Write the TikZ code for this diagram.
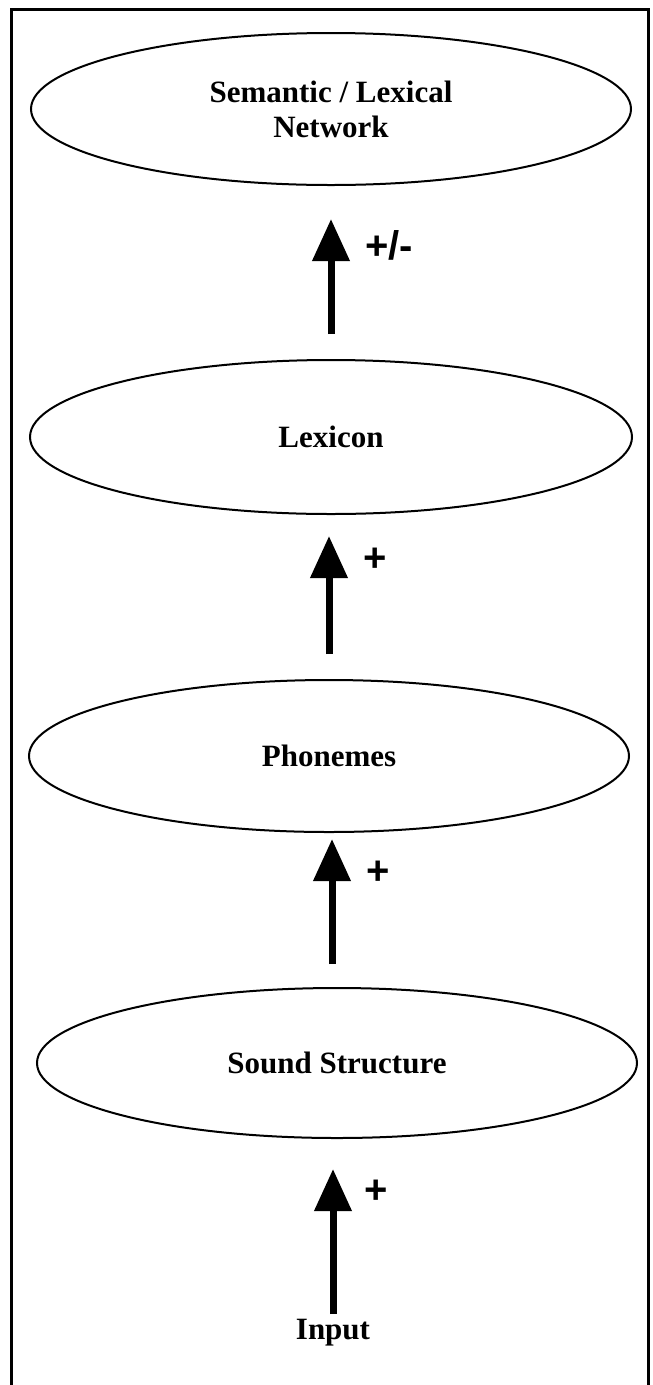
\documentclass[tikz,border=0pt]{standalone}
\usepackage{fontspec}
\setsansfont{Liberation Sans}
\newfontfamily\levelfont{Liberation Serif}
\usetikzlibrary{shapes.geometric,arrows.meta,positioning}

\begin{document}
\begin{tikzpicture}[x=1pt, y=-1pt, >={Triangle[length=42pt, width=36pt]},
    level/.style={ellipse, draw, line width=2pt, inner sep=0pt, align=center,
        font=\fontsize{31}{35}\selectfont\levelfont\bfseries},
    up/.style={->, line width=7pt},
    sign/.style={font=\fontsize{40}{40}\selectfont\sffamily\bfseries}]
    \useasboundingbox (0,0) rectangle (653,1385);

    % Frame
    \draw[line width=3pt] (11,1385) -- (11,9) -- (648,9) -- (648,1385);

    % Levels
    \node[level, minimum width=600pt, minimum height=152pt] (semantic) at (331,109) {Semantic / Lexical\\Network};
    \node[level, minimum width=602pt, minimum height=154pt] (lexicon) at (331,437) {Lexicon};
    \node[level, minimum width=600pt, minimum height=152pt] (phonemes) at (329,756) {Phonemes};
    \node[level, minimum width=600pt, minimum height=150pt] (sound) at (337,1063) {Sound Structure};
    \node[font=\fontsize{31}{35}\selectfont\levelfont\bfseries] (input) at (333,1333) {Input};

    % Arrows
    \draw[up, shorten <=25pt, shorten >=33pt] (lexicon.north) -- (lexicon.north |- semantic.south);
    \draw[up, shorten <=25pt, shorten >=21pt] (phonemes.north) -- (phonemes.north |- lexicon.south);
    \draw[up, shorten <=23pt, shorten >=6pt] ([xshift=-5pt]sound.north) -- ([xshift=-5pt]sound.north |- phonemes.south);
    \draw[up, shorten <=2pt, shorten >=30pt] (input.north) -- (input.north |- sound.south);

    % Signs
    \node[sign] (s1) at (389,245) {+/-};
    \node[sign] (s2) at (375,560) {+};
    \node[sign] (s3) at (378,873) {+};
    \node[sign] (s4) at (376,1192) {+};
\end{tikzpicture}
\end{document}
